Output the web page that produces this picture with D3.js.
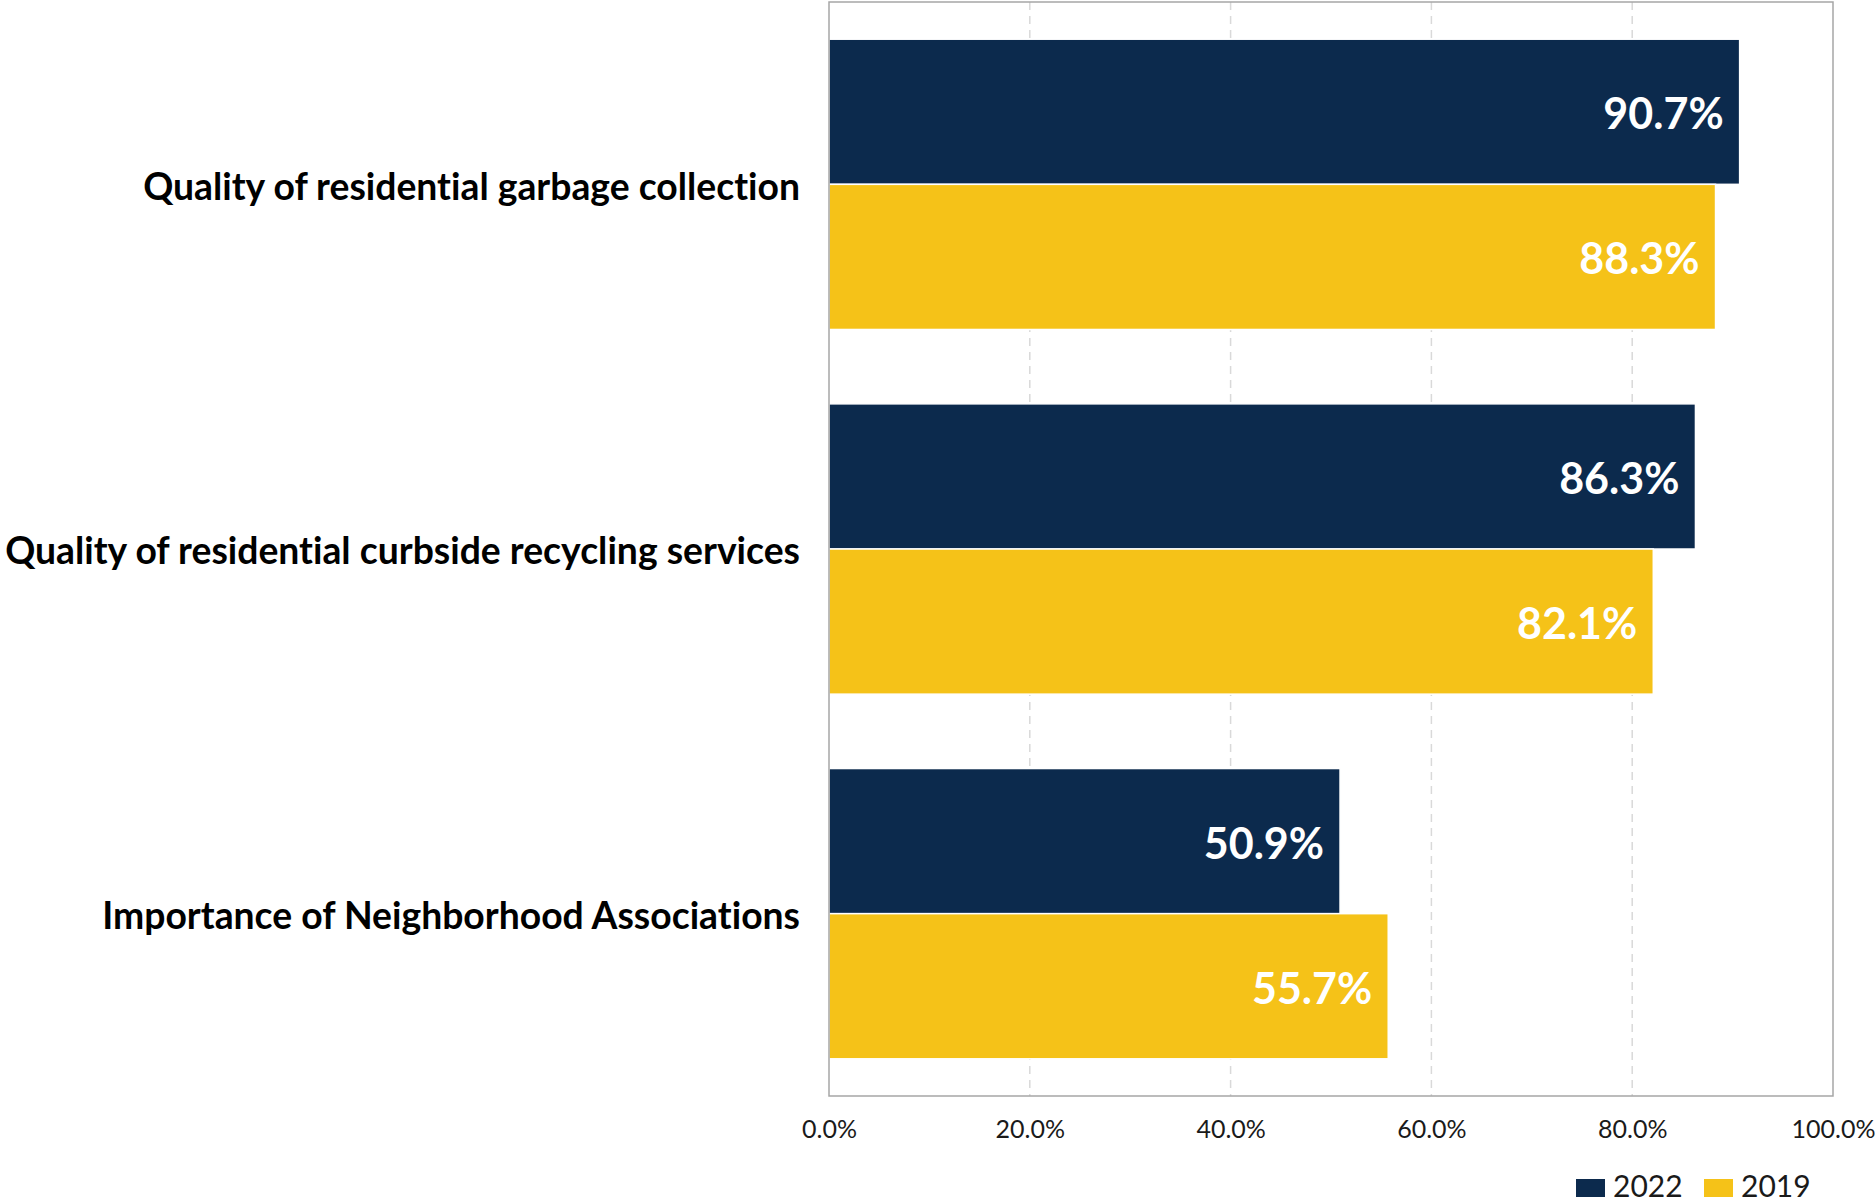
<!DOCTYPE html>
<html>
<head>
<meta charset="utf-8">
<script src="https://cdn.jsdelivr.net/npm/d3@7"></script>
<style>
  html, body { margin: 0; padding: 0; background: #ffffff; }
  svg { display: block; font-family: Lato, "Open Sans", sans-serif; font-variant-ligatures: none; }
</style>
</head>
<body>
<svg id="chart" width="1875" height="1204"></svg>
<script>
// Survey items (top to bottom) and the share rating each positively
const categories = [
  "Quality of residential garbage collection",
  "Quality of residential curbside recycling services",
  "Importance of Neighborhood Associations"
];
const seriesNames = ["2022", "2019"];
const values2022 = [90.7, 86.3, 50.9];
const values2019 = [88.3, 82.1, 55.7];
const xTicks = [0, 20, 40, 60, 80, 100];
const seriesColors = ["#0c2a4d", "#f5c218"];

const svg = d3.select("#chart");
const plot = { left: 829, right: 1833, top: 2, bottom: 1096 };

const x = d3.scaleLinear().domain([0, 100]).range([plot.left, plot.right]);
const y = d3.scaleBand().domain(categories)
  .range([plot.top, plot.bottom]).paddingInner(0.204).paddingOuter(0.102);
const ySeries = d3.scaleBand().domain(seriesNames).range([0, y.bandwidth()]);
const color = d3.scaleOrdinal().domain(seriesNames).range(seriesColors);

const rows = categories.map((c, i) => ({
  category: c,
  items: [
    { series: "2022", value: values2022[i] },
    { series: "2019", value: values2019[i] }
  ]
}));

// Dashed vertical gridlines
svg.append("g").selectAll("line")
  .data(xTicks.filter(t => t > 0 && t < 100))
  .join("line")
  .attr("x1", d => x(d)).attr("x2", d => x(d))
  .attr("y1", plot.top).attr("y2", plot.bottom)
  .attr("stroke", "#d9d9d9").attr("stroke-width", 1.5)
  .attr("stroke-dasharray", "8,6");

// Bars with value labels
const groups = svg.append("g").selectAll("g")
  .data(rows).join("g")
  .attr("transform", d => `translate(0,${y(d.category)})`);

groups.selectAll("rect")
  .data(d => d.items).join("rect")
  .attr("x", x(0))
  .attr("y", d => ySeries(d.series))
  .attr("width", d => x(d.value) - x(0))
  .attr("height", ySeries.bandwidth())
  .attr("fill", d => color(d.series))
  .attr("stroke", "#ffffff").attr("stroke-width", 1.5);

groups.selectAll("text")
  .data(d => d.items).join("text")
  .attr("x", d => x(d.value) - 16)
  .attr("y", d => ySeries(d.series) + ySeries.bandwidth() / 2 + 2)
  .attr("dy", "0.36em")
  .attr("text-anchor", "end")
  .attr("fill", "#ffffff")
  .attr("font-weight", 700)
  .attr("font-size", 43)
  .text(d => d.value.toFixed(1) + "%");

// Plot frame
svg.append("rect")
  .attr("x", plot.left).attr("y", plot.top)
  .attr("width", plot.right - plot.left).attr("height", plot.bottom - plot.top)
  .attr("fill", "none").attr("stroke", "#a6a6a6").attr("stroke-width", 1.5);

// Category labels
svg.append("g").selectAll("text")
  .data(categories).join("text")
  .attr("x", 800)
  .attr("y", d => y(d) + y.bandwidth() / 2 + 2)
  .attr("dy", "0.36em")
  .attr("text-anchor", "end")
  .attr("fill", "#000000")
  .attr("font-weight", 700)
  .attr("font-size", 37.3)
  .text(d => d);

// X axis tick labels
const xAxis = d3.axisBottom(x).tickValues(xTicks)
  .tickFormat(d => d.toFixed(1) + "%").tickSize(0).tickPadding(0);
const axisG = svg.append("g")
  .attr("transform", `translate(0,${plot.bottom})`)
  .call(xAxis);
axisG.select(".domain").remove();
axisG.selectAll("text")
  .attr("y", 42).attr("dy", 0)
  .attr("font-family", "Lato, sans-serif")
  .attr("font-size", 25)
  .attr("fill", "#1a1a1a");

// Legend
const legend = svg.append("g").selectAll("g")
  .data(seriesNames).join("g")
  .attr("transform", (d, i) => `translate(${1576 + i * 128},0)`);
legend.append("rect")
  .attr("x", 0).attr("y", 1179).attr("width", 29).attr("height", 18)
  .attr("fill", d => color(d));
legend.append("text")
  .attr("x", 37).attr("y", 1197)
  .attr("font-size", 30)
  .attr("fill", "#1a1a1a")
  .text(d => d);
</script>
</body>
</html>
